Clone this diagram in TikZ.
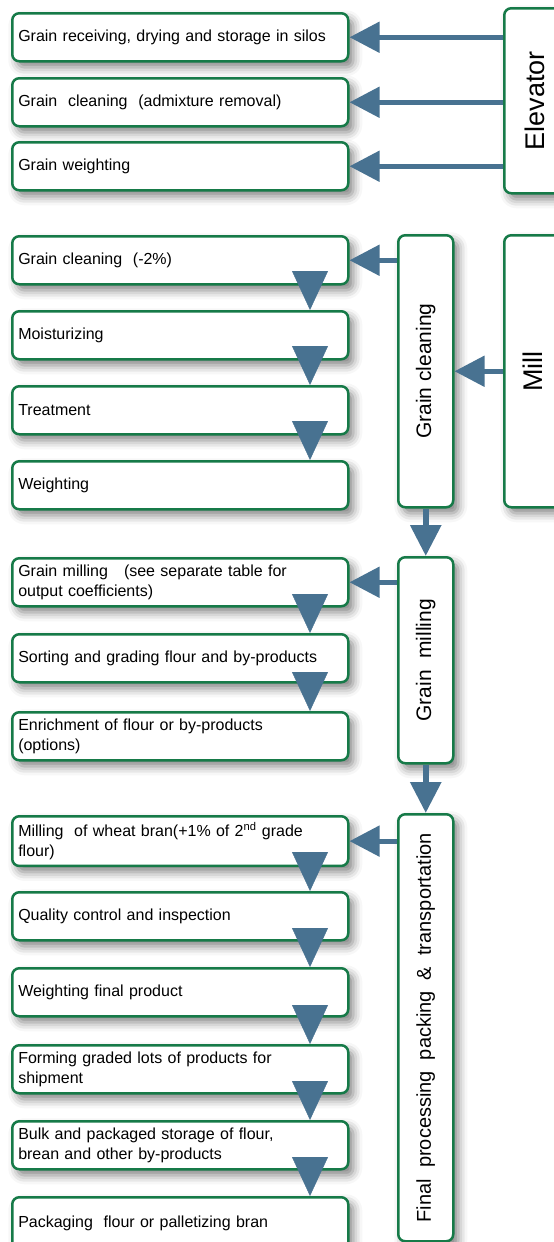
\documentclass[tikz,border=0pt]{standalone}
\usepackage{fontspec}
\setmainfont{Liberation Sans}
\usetikzlibrary{arrows.meta,shadows.blur}
\definecolor{boxgreen}{RGB}{22,122,72}
\definecolor{flowblue}{RGB}{72,114,145}

\begin{document}
\begin{tikzpicture}[x=1pt,y=-1pt,
  stepbox/.style={draw=boxgreen,line width=2.5pt,rounded corners=7pt,fill=white,
    anchor=north west,minimum height=48pt,text width=324pt,inner sep=6pt,align=left,
    font=\fontsize{16}{20}\selectfont,
    blur shadow={shadow xshift=5pt,shadow yshift=-6pt,shadow blur radius=9pt,shadow opacity=50}},
  sidebox/.style={draw=boxgreen,line width=2.5pt,rounded corners=7pt,fill=white,
    anchor=north west,minimum width=55pt,inner sep=0pt,
    blur shadow={shadow xshift=5pt,shadow yshift=-6pt,shadow blur radius=9pt,shadow opacity=50}},
  sidetext/.style={rotate=90,font=\fontsize{21}{25}\selectfont},
  bigtext/.style={rotate=90,font=\fontsize{27}{32}\selectfont},
  feed/.style={draw=flowblue,line width=5pt,-{Triangle[length=30pt,width=30pt]}},
  down/.style={draw=flowblue,line width=6pt,-{Triangle[length=31pt,width=30pt]}},
  drop/.style={draw=flowblue,line width=0.4pt,-{Triangle[length=39pt,width=36pt]}}]
  \useasboundingbox (0,0) rectangle (554,1242);
  \clip (0,0) rectangle (554,1242);
  \coordinate (tx) at (310,0);

  % elevator
  \node[stepbox] (e1) at (11,12) {Grain receiving, drying and storage in silos};
  \node[stepbox] (e2) at (11,77) {Grain~ cleaning~ (admixture removal)};
  \node[stepbox] (e3) at (11,141) {Grain weighting};
  \node[sidebox,minimum width=67pt,minimum height=185pt] (elev) at (503,7) {};
  \node[bigtext] (elevT) at ([xshift=-3pt]elev.center) {Elevator};
  \draw[feed] (elev.west |- e1.east) -- (e1.east);
  \draw[feed] (elev.west |- e2.east) -- (e2.east);
  \draw[feed] (elev.west |- e3.east) -- (e3.east);

  % mill, cleaning
  \node[stepbox] (m1) at (11,235) {Grain cleaning~ (-2\%)};
  \node[stepbox] (m2) at (11,310) {Moisturizing};
  \node[stepbox] (m3) at (11,385) {Treatment};
  \node[stepbox] (m4) at (11,460) {Weighting};
  \node[sidebox,minimum height=272pt] (gc) at (397,234) {};
  \node[sidetext] (gcT) at (gc.center) {Grain cleaning};
  \node[sidebox,minimum width=67pt,minimum height=272pt] (mill) at (503,234) {};
  \node[bigtext] (millT) at ([xshift=-5pt]mill.center) {Mill};
  \draw[feed] (mill.west) -- (gc.east);
  \draw[feed] (gc.west |- m1.east) -- (m1.east);
  \draw[drop] (m1.south -| tx) -- (m2.north -| tx);
  \draw[drop] (m2.south -| tx) -- (m3.north -| tx);
  \draw[drop] (m3.south -| tx) -- (m4.north -| tx);

  % milling
  \node[stepbox] (g1) at (11,557) {Grain milling~~ (see separate table for\\output coefficients)};
  \node[stepbox] (g2) at (11,633) {Sorting and grading flour and by-products};
  \node[stepbox] (g3) at (11,711) {Enrichment of flour or by-products\\(options)};
  \node[sidebox,minimum height=206pt] (gm) at (397,556) {};
  \node[sidetext] (gmT) at (gm.center) {Grain~ milling};
  \draw[down] (gc.south) -- (gm.north);
  \draw[feed] (gm.west |- g1.east) -- (g1.east);
  \draw[drop] (g1.south -| tx) -- (g2.north -| tx);
  \draw[drop] (g2.south -| tx) -- (g3.north -| tx);

  % final processing
  \node[stepbox] (f1) at (11,815) {Milling~ of wheat bran(+1\% of 2\textsuperscript{nd} grade\\flour)};
  \node[stepbox] (f2) at (11,891) {Quality control and inspection};
  \node[stepbox] (f3) at (11,967) {Weighting final product};
  \node[stepbox] (f4) at (11,1044) {Forming graded lots of products for\\shipment};
  \node[stepbox] (f5) at (11,1120) {Bulk and packaged storage of flour,\\brean and other by-products};
  \node[stepbox,minimum height=52pt] (f6) at (11,1196) {Packaging~ flour or palletizing bran};
  \node[sidebox,minimum height=427pt] (fp) at (397,813) {};
  \node[sidetext,font=\fontsize{20}{24}\selectfont] (fpT) at (fp.center) {Final~ processing~ packing~ \&~ transportation};
  \draw[down] (gm.south) -- (fp.north);
  \draw[feed] (fp.west |- f1.east) -- (f1.east);
  \draw[drop] (f1.south -| tx) -- (f2.north -| tx);
  \draw[drop] (f2.south -| tx) -- (f3.north -| tx);
  \draw[drop] (f3.south -| tx) -- (f4.north -| tx);
  \draw[drop] (f4.south -| tx) -- (f5.north -| tx);
  \draw[drop] (f5.south -| tx) -- (f6.north -| tx);
\end{tikzpicture}
\end{document}
